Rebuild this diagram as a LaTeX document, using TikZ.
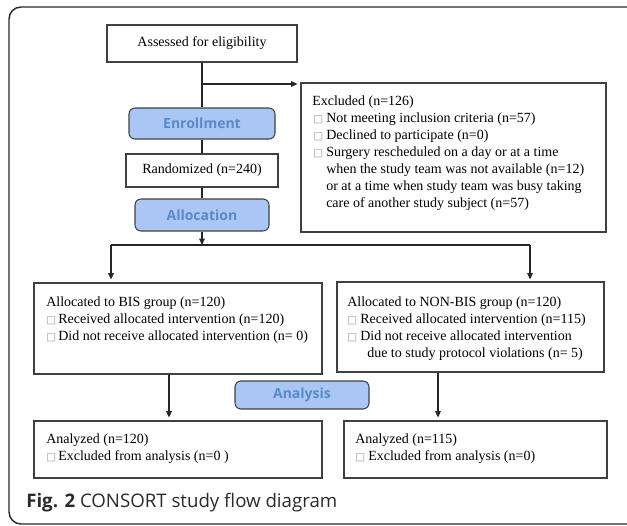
\documentclass[tikz,border=0pt]{standalone}
\usepackage{fontspec}
\setmainfont{Liberation Serif}
\newfontfamily\osans{Open Sans}
\newfontfamily\dvs{DejaVu Sans}
\usetikzlibrary{fit,arrows.meta}
\definecolor{linecol}{HTML}{262626}
\definecolor{boxcol}{HTML}{404040}
\definecolor{bluefill}{HTML}{A9C6F5}
\definecolor{bluetext}{HTML}{5A8AC6}
\definecolor{captcol}{HTML}{2A2A2A}
\definecolor{bulcol}{HTML}{9C9C9C}
\newcommand{\bul}{{\dvs\fontsize{7.8}{9}\selectfont\color{bulcol}□}}
\begin{document}
\begin{tikzpicture}[x=0.75pt,y=-0.75pt,
  box/.style={draw=boxcol, line width=0.8pt, inner sep=0pt, rectangle},
  stage/.style={draw=boxcol, fill=bluefill, line width=0.8pt, inner sep=0pt,
    rounded corners=4.5pt, font=\osans\bfseries\fontsize{10.5}{12}\selectfont, text=bluetext},
  ctext/.style={font=\fontsize{10.5}{12.75}\selectfont},
  txt/.style={inner sep=0pt, anchor=base west, font=\fontsize{10.5}{12.75}\selectfont},
  conn/.style={draw=linecol, line width=0.9pt},
  arr/.style={conn, -{Triangle[length=4.8pt,width=4.2pt]}},
]
\useasboundingbox (0,0) rectangle (627,525);
\begin{scope}
  \clip (0,0) rectangle (627,525);
  \draw[draw=captcol, line width=1.1pt, rounded corners=9pt] (9,7) rectangle (650,524);
\end{scope}

% boxes
\node[box, ctext, minimum width=142.5pt, minimum height=27.75pt] (assess) at (202,43.5) {Assessed for eligibility};
\node[box, fit={(301,83)(606,232)}] (excl) {};
\node[stage, minimum width=109.5pt, minimum height=23.25pt] (enroll) at (202,123.5) {Enrollment};
\node[box, ctext, minimum width=114pt, minimum height=24.75pt] (random) at (202,170.5) {Randomized (n=240)};
\node[stage, minimum width=100.5pt, minimum height=24pt] (alloc) at (202,215) {Allocation};
\node[box, fit={(34,283)(322,374)}] (bis) {};
\node[box, fit={(337,282)(604,372)}] (nonbis) {};
\node[stage, minimum width=100.5pt, minimum height=21pt] (analysis) at (302,395) {Analysis};
\node[box, fit={(34,421)(322,478)}] (anl) {};
\node[box, fit={(344,421)(607,478)}] (anr) {};

% excluded text
\node[txt] (e0) at (312,105) {Excluded (n=126)};
\node[txt] (e1b) at (313,122) {\bul};
\node[txt] (e1) at (326,122) {Not meeting inclusion criteria (n=57)};
\node[txt] (e2b) at (313,139) {\bul};
\node[txt] (e2) at (326,139) {Declined to participate (n=0)};
\node[txt] (e3b) at (313,156) {\bul};
\node[txt] (e3) at (326,156) {Surgery rescheduled on a day or at a time};
\node[txt] (e4) at (326,173) {when the study team was not available (n=12)};
\node[txt] (e5) at (326,190) {or at a time when study team was busy taking};
\node[txt] (e6) at (326,207) {care of another study subject (n=57)};

% BIS text
\node[txt] (b0) at (46,306) {Allocated to BIS group (n=120)};
\node[txt] (b1b) at (46,323) {\bul};
\node[txt] (b1) at (58,323) {Received allocated intervention (n=120)};
\node[txt] (b2b) at (46,340) {\bul};
\node[txt] (b2) at (58,340) {Did not receive allocated intervention (n= 0)};

% NON-BIS text
\node[txt] (n0) at (347,306) {Allocated to NON-BIS group (n=120)};
\node[txt] (n1b) at (347,323) {\bul};
\node[txt] (n1) at (360,323) {Received allocated intervention (n=115)};
\node[txt] (n2b) at (347,340) {\bul};
\node[txt] (n2) at (360,340) {Did not receive allocated intervention};
\node[txt] (n3) at (367,357) {due to study protocol violations (n= 5)};

% analyzed text
\node[txt] (l0) at (46,443) {Analyzed (n=120)};
\node[txt] (l1b) at (46,460) {\bul};
\node[txt] (l1) at (58,460) {Excluded from analysis (n=0 )};
\node[txt] (r0) at (355,443) {Analyzed (n=115)};
\node[txt] (r1b) at (355,460) {\bul};
\node[txt] (r1) at (368,460) {Excluded from analysis (n=0)};

% caption
\node[inner sep=0pt, anchor=base west, text=captcol, font=\osans\fontsize{14}{16}\selectfont] (cap) at (26,507)
  {{\bfseries Fig. 2} CONSORT study flow diagram};

% connectors
\coordinate (j1) at (202,84);
\coordinate (j2) at (202,245);
\coordinate (jl) at (111,245);
\coordinate (jr) at (530,245);
\coordinate (la) at (169,0);
\coordinate (ra) at (438,0);
\draw[conn] (assess.south) -- (enroll.north);
\draw[arr, shorten >=2.2pt] (j1) -- (excl.west |- j1);
\draw[conn] (enroll.south) -- (random.north);
\draw[conn] (random.south) -- (alloc.north);
\draw[arr] (alloc.south) -- (j2);
\draw[conn] (jl) -- (jr);
\draw[line width=1.8pt, draw=linecol] (312,245) -- (328,245);
\draw[arr, shorten >=2.2pt] (jl) -- (bis.north -| jl);
\draw[arr, shorten >=1.5pt] (jr) -- (nonbis.north -| jr);
\draw[arr, shorten >=2.2pt] (bis.south -| la) -- (anl.north -| la);
\draw[arr, shorten >=2.2pt] (nonbis.south -| ra) -- (anr.north -| ra);
\end{tikzpicture}
\end{document}
